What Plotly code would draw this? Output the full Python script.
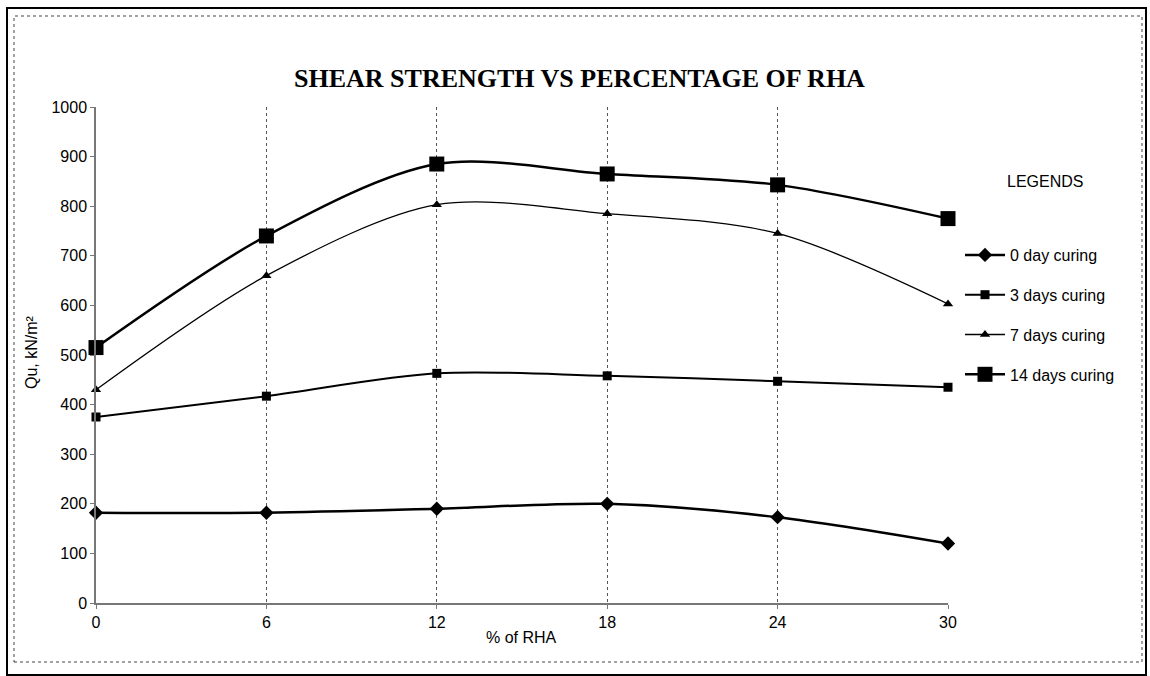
import plotly.graph_objects as go

rha = [0, 6, 12, 18, 24, 30]
day0 = [182, 182, 190, 200, 173, 120]
day3 = [375, 417, 463, 458, 447, 435]
day7 = [430, 660, 803, 785, 745, 603]
day14 = [515, 740, 885, 865, 843, 775]

series_names = ["0 day curing", "3 days curing", "7 days curing", "14 days curing"]
x_ticks = [0, 6, 12, 18, 24, 30]
y_ticks = [0, 100, 200, 300, 400, 500, 600, 700, 800, 900, 1000]

W, H = 1150, 676
L, R, T, B = 96, 948, 107, 603

def px(x):
    return (x - L) / (R - L)

def py(y):
    return (B - y) / (B - T)

fig = go.Figure()
styles = [
    (day0, "diamond", 11, 2.5),
    (day3, "square", 9, 2.0),
    (day7, "triangle-up", 9, 1.3),
    (day14, "square", 15, 2.5),
]
for name, (vals, sym, ms, lw) in zip(series_names, styles):
    fig.add_trace(go.Scatter(
        x=rha, y=vals, name=name, legendgroup=name,
        mode="lines+markers", cliponaxis=False,
        line=dict(color="black", width=lw, shape="spline", smoothing=0.9),
        marker=dict(symbol=sym, size=ms, color="black"),
    ))

font = "Liberation Sans, Arial, sans-serif"
fig.update_layout(
    width=W, height=H,
    margin=dict(l=L, r=W - R, t=T, b=H - B),
    paper_bgcolor="white", plot_bgcolor="white",
    font=dict(family=font, size=16, color="black"),
    showlegend=True,
    legend=dict(x=px(960), y=py(238), xanchor="left", yanchor="top",
                tracegroupgap=16, font=dict(size=16, family=font),
                bgcolor="rgba(0,0,0,0)", itemwidth=40),
    xaxis=dict(range=[0, 30], tickvals=x_ticks, ticktext=[str(v) for v in x_ticks],
               showgrid=True, gridcolor="#555555", griddash="dot", gridwidth=1,
               showline=True, linecolor="#777777", linewidth=1.5,
               ticks="outside", ticklen=4, tickcolor="#777777",
               zeroline=False, fixedrange=True, tickfont=dict(size=16)),
    yaxis=dict(range=[0, 1000], tickvals=y_ticks,
               showgrid=False, showline=True, linecolor="#777777", linewidth=1.5,
               ticks="outside", ticklen=4, tickcolor="#777777",
               zeroline=False, tickfont=dict(size=16)),
)

def note(text, x, y, size, family=font, angle=0):
    fig.add_annotation(text=text, x=px(x), y=py(y), xref="paper", yref="paper",
                       xanchor="center", yanchor="middle", textangle=angle,
                       showarrow=False, font=dict(family=family, size=size, color="black"))

note("<b>SHEAR STRENGTH VS PERCENTAGE OF RHA</b>", 579, 78, 26,
     family="Liberation Serif, Times New Roman, serif")
note("Qu, kN/m²", 31, 352, 16, angle=-90)
note("% of RHA", 521, 637, 16)
note("LEGENDS", 1045, 181, 16)

# frame borders
fig.add_shape(type="rect", xref="paper", yref="paper",
              x0=px(7), x1=px(1146), y0=py(675), y1=py(8),
              line=dict(color="black", width=2))
fig.add_shape(type="rect", xref="paper", yref="paper",
              x0=px(14), x1=px(1142), y0=py(662), y1=py(16),
              line=dict(color="#444444", width=1, dash="dot"))

fig.write_html("out.html")
